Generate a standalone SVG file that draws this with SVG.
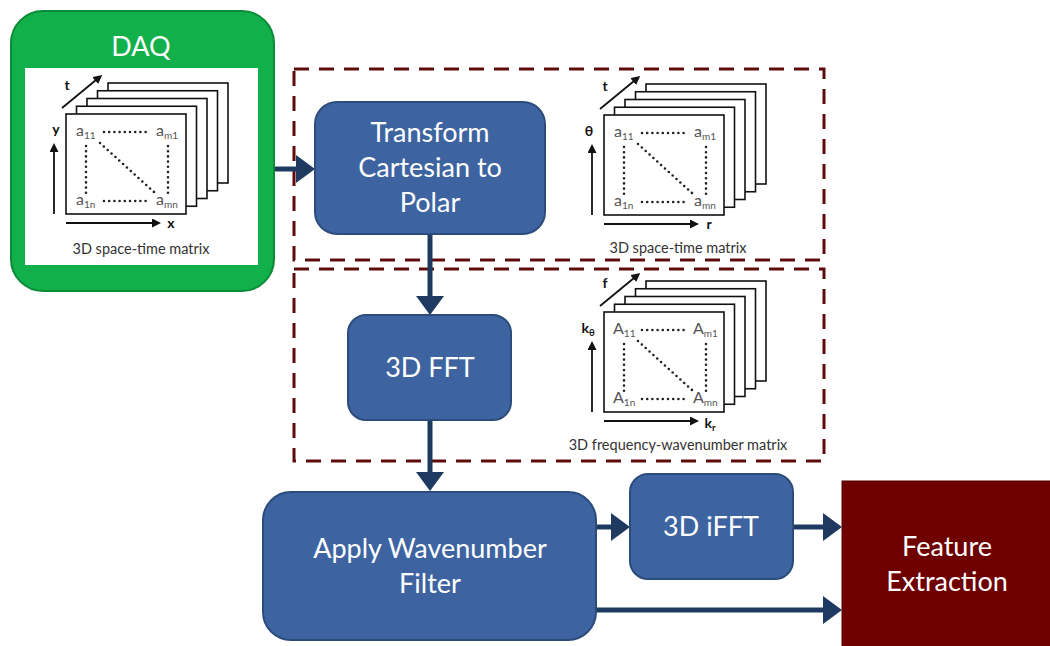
<svg xmlns="http://www.w3.org/2000/svg" xmlns:xlink="http://www.w3.org/1999/xlink" width="1050" height="646" viewBox="0 0 1050 646">
  <style>
    .proc { fill: #3d64a0; stroke: #2c4c7c; stroke-width: 2; }
    .lbl { font-family: Lato, "Open Sans", "DejaVu Sans", sans-serif; fill: #ffffff; text-anchor: middle; font-size: 27px; }
    .zone { fill: none; stroke: #5e0b0b; stroke-width: 3; stroke-dasharray: 15 10; }
    .conn { stroke: #1f3a60; stroke-width: 5; fill: none; }
    .frame { fill: #ffffff; stroke: #111111; stroke-width: 1.6; }
    .dots { stroke: #222222; stroke-width: 2.6; stroke-linecap: round; stroke-dasharray: 0 5.2; fill: none; }
    .axis { stroke: #111111; stroke-width: 1.8; fill: none; }
    .cell { font-family: Lato, "Open Sans", "DejaVu Sans", sans-serif; font-size: 16px; fill: #555555; }
    .cell tspan { font-size: 10px; }
    .axl { font-family: Lato, "Open Sans", "DejaVu Sans", sans-serif; font-size: 14px; font-weight: bold; fill: #111111; text-anchor: middle; }
    .axl tspan { font-size: 9.5px; }
    .cap { font-family: Lato, "Open Sans", "DejaVu Sans", sans-serif; font-size: 14.5px; fill: #333333; text-anchor: middle; }
  </style>
  <defs>
    <marker id="head" viewBox="0 0 19 28" refX="1" refY="14" markerWidth="19" markerHeight="28" markerUnits="userSpaceOnUse" orient="auto">
      <path d="M0,0 L19,14 L0,28 Z" fill="#1f3a60"/>
    </marker>
    <marker id="tip" viewBox="0 0 9 9" refX="1" refY="4.5" markerWidth="9" markerHeight="9" markerUnits="userSpaceOnUse" orient="auto">
      <path d="M0,0 L9,4.5 L0,9 Z" fill="#111111"/>
    </marker>
    <!-- stack of five matrix sheets with the dotted element pattern on the front sheet -->
    <g id="stack">
      <rect class="frame" x="42" y="-31" width="120" height="100"/>
      <rect class="frame" x="31.5" y="-23.25" width="120" height="100"/>
      <rect class="frame" x="21" y="-15.5" width="120" height="100"/>
      <rect class="frame" x="10.5" y="-7.75" width="120" height="100"/>
      <rect class="frame" x="0" y="0" width="120" height="100"/>
      <line class="dots" x1="38" y1="18" x2="81" y2="18"/>
      <line class="dots" x1="38" y1="87" x2="81" y2="87"/>
      <line class="dots" x1="20" y1="32" x2="20" y2="79"/>
      <line class="dots" x1="102" y1="32" x2="102" y2="79"/>
      <line class="dots" x1="34" y1="29" x2="88" y2="78"/>
      <line class="axis" x1="-4" y1="-6" x2="30" y2="-34" marker-end="url(#tip)"/>
      <line class="axis" x1="-12" y1="100" x2="-12" y2="37" marker-end="url(#tip)"/>
      <line class="axis" x1="0" y1="109" x2="87" y2="109" marker-end="url(#tip)"/>
    </g>
  </defs>

  <!-- dashed processing zones -->
  <g id="zones">
    <rect class="zone" x="294" y="69" width="530" height="191"/>
    <rect class="zone" x="294" y="269" width="530" height="192"/>
  </g>

  <!-- connectors -->
  <g id="connectors">
    <line class="conn" x1="274" y1="169" x2="297" y2="169" marker-end="url(#head)"/>
    <line class="conn" x1="430" y1="234" x2="430" y2="297" marker-end="url(#head)"/>
    <line class="conn" x1="430" y1="420" x2="430" y2="473" marker-end="url(#head)"/>
    <line class="conn" x1="596" y1="527" x2="612" y2="527" marker-end="url(#head)"/>
    <line class="conn" x1="793" y1="527" x2="824" y2="527" marker-end="url(#head)"/>
    <line class="conn" x1="596" y1="610" x2="824" y2="610" marker-end="url(#head)"/>
  </g>

  <!-- data acquisition -->
  <g id="daq">
    <rect x="11" y="11" width="263" height="280" rx="32" fill="#12b04a" stroke="#0b8a37" stroke-width="2"/>
    <text class="lbl" x="141" y="56" font-size="25">DAQ</text>
    <rect x="25" y="68" width="233" height="197" fill="#ffffff"/>
    <g transform="translate(66,114)">
      <use xlink:href="#stack"/>
      <text class="cell" x="10" y="22">a<tspan dy="3">11</tspan></text>
      <text class="cell" x="90" y="22">a<tspan dy="3">m1</tspan></text>
      <text class="cell" x="10" y="91">a<tspan dy="3">1n</tspan></text>
      <text class="cell" x="90" y="91">a<tspan dy="3">mn</tspan></text>
      <text class="axl" x="1" y="-24">t</text>
      <text class="axl" x="-10" y="20">y</text>
      <text class="axl" x="105" y="114">x</text>
      <text class="cap" x="75" y="140">3D space-time matrix</text>
    </g>
  </g>

  <!-- polar transform -->
  <g id="transform">
    <rect class="proc" x="315" y="102" width="230" height="132" rx="22"/>
    <text class="lbl" x="430" y="142">Transform</text>
    <text class="lbl" x="430" y="177">Cartesian to</text>
    <text class="lbl" x="430" y="212">Polar</text>
  </g>

  <g id="polar-matrix" transform="translate(604,115)">
    <use xlink:href="#stack"/>
    <text class="cell" x="10" y="22">a<tspan dy="3">11</tspan></text>
    <text class="cell" x="90" y="22">a<tspan dy="3">m1</tspan></text>
    <text class="cell" x="10" y="91">a<tspan dy="3">1n</tspan></text>
    <text class="cell" x="90" y="91">a<tspan dy="3">mn</tspan></text>
    <text class="axl" x="1" y="-24">t</text>
    <text class="axl" x="-15" y="21">θ</text>
    <text class="axl" x="105" y="114">r</text>
    <text class="cap" x="74" y="138">3D space-time matrix</text>
  </g>

  <!-- forward transform -->
  <g id="fft">
    <rect class="proc" x="348" y="315" width="163" height="105" rx="18"/>
    <text class="lbl" x="430" y="377">3D FFT</text>
  </g>

  <g id="fk-matrix" transform="translate(604,312)">
    <use xlink:href="#stack"/>
    <text class="cell" x="9" y="22">A<tspan dy="3">11</tspan></text>
    <text class="cell" x="89" y="22">A<tspan dy="3">m1</tspan></text>
    <text class="cell" x="9" y="91">A<tspan dy="3">1n</tspan></text>
    <text class="cell" x="89" y="91">A<tspan dy="3">mn</tspan></text>
    <text class="axl" x="1" y="-24">f</text>
    <text class="axl" x="-16" y="21">k<tspan dy="3">θ</tspan></text>
    <text class="axl" x="106" y="116">k<tspan dy="3">r</tspan></text>
    <text class="cap" x="74" y="138">3D frequency-wavenumber matrix</text>
  </g>

  <!-- filtering stage -->
  <g id="filter">
    <rect class="proc" x="263" y="492" width="333" height="148" rx="28"/>
    <text class="lbl" x="430" y="558">Apply Wavenumber</text>
    <text class="lbl" x="430" y="593">Filter</text>
  </g>

  <g id="ifft">
    <rect class="proc" x="630" y="474" width="163" height="105" rx="18"/>
    <text class="lbl" x="711" y="536">3D iFFT</text>
  </g>

  <g id="features">
    <rect x="842" y="481" width="220" height="180" fill="#6e0000" stroke="#5a0000" stroke-width="1"/>
    <text class="lbl" x="947" y="556">Feature</text>
    <text class="lbl" x="947" y="591">Extraction</text>
  </g>
</svg>
